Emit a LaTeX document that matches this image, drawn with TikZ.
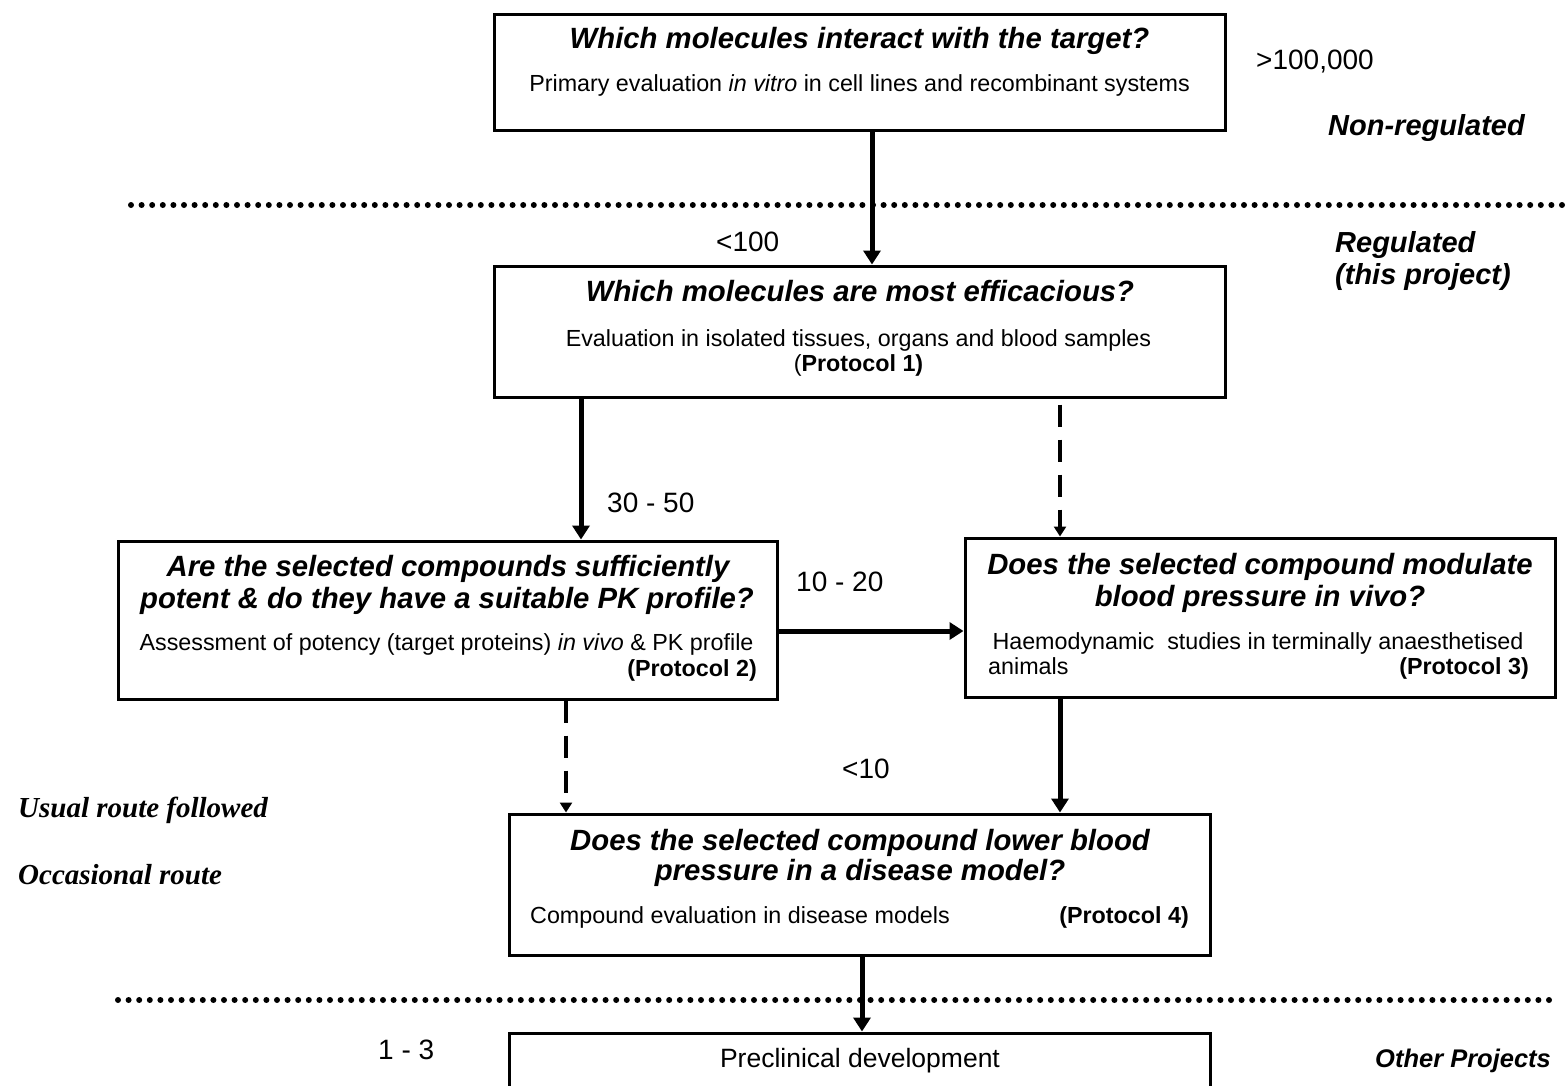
\documentclass[tikz,border=0pt]{standalone}
\usepackage{fontspec}
\setmainfont{Liberation Sans}
\newfontfamily\legfont{Liberation Serif}
\usetikzlibrary{arrows.meta}
\begin{document}
\begin{tikzpicture}[x=1pt,y=-1pt,
  box/.style={draw, line width=3pt, rectangle, inner sep=0pt},
  ttl/.style={font=\fontsize{29.3}{32}\selectfont\bfseries\itshape, inner sep=0pt, anchor=base},
  bdy/.style={font=\fontsize{23.3}{26}\selectfont, inner sep=0pt, anchor=base},
  lbl/.style={font=\fontsize{28}{30}\selectfont, inner sep=0pt, anchor=base west},
  side/.style={font=\fontsize{29}{31}\selectfont\bfseries\itshape, inner sep=0pt, anchor=base west},
  leg/.style={font=\legfont\fontsize{29}{31}\selectfont\bfseries\itshape, inner sep=0pt, anchor=base west},
  solidarrow/.style={line width=5pt, -{Triangle[length=14pt,width=17pt]}},
  dasharrow/.style={line width=4pt, dash pattern=on 22pt off 13pt, -{Triangle[length=10pt,width=12pt]}},
  dotline/.style={line width=6pt, line cap=round, dash pattern=on 0pt off 10.6pt},
]
\clip (0,0) rectangle (1567,1085);
\fill[white] (0,0) rectangle (1567,1085);

% dotted separators
\draw[dotline] (131,205) -- (1567,205);
\draw[dotline] (118,1000) -- (1556,1000);

% boxes
\node[box, minimum width=731pt, minimum height=116pt] (b1) at (859.5,72) {};
\node[box, minimum width=731pt, minimum height=131pt] (b2) at (859.5,331.5) {};
\node[box, minimum width=659pt, minimum height=158pt] (b3) at (447.5,620) {};
\node[box, minimum width=590pt, minimum height=159pt] (b4) at (1260,617.5) {};
\node[box, minimum width=701pt, minimum height=141pt] (b5) at (859.5,884.5) {};
\node[box, minimum width=701pt, minimum height=120pt] (b6) at (859.5,1093) {};

% helper coordinates
\coordinate (x872) at (872,0);
\coordinate (x581) at (581,0);
\coordinate (x1060) at (1060,0);
\coordinate (x566) at (566,0);
\coordinate (x862) at (862,0);
\coordinate (y631) at (0,631);

% connectors
\draw[solidarrow] (b1.south -| x872) -- (b2.north -| x872);
\draw[solidarrow] (b2.south -| x581) -- (b3.north -| x581);
\draw[dasharrow] ([yshift=-6pt]b2.south -| x1060) -- (b4.north -| x1060);
\draw[solidarrow] (b3.east |- y631) -- (b4.west |- y631);
\draw[dasharrow] (b3.south -| x566) -- (b5.north -| x566);
\draw[solidarrow] (b4.south -| x1060) -- (b5.north -| x1060);
\draw[solidarrow] (b5.south -| x862) -- (b6.north -| x862);

% box texts
\node[ttl] (t1) at (859.5,48) {Which molecules interact with the target?};
\node[bdy] (s1) at (859.5,91) {Primary evaluation {\itshape in vitro} in cell lines and recombinant systems};

\node[ttl] (t2) at (860,301) {Which molecules are most efficacious?};
\node[bdy] (s2) at (858.5,346) {Evaluation in isolated tissues, organs and blood samples};
\node[bdy] (p2) at (858.5,371) {(\textbf{Protocol 1)}};

\node[ttl] (t3a) at (448,576) {Are the selected compounds sufficiently};
\node[ttl] (t3b) at (447,608) {potent \& do they have a suitable PK profile?};
\node[bdy] (s3) at (446.5,650) {Assessment of potency (target proteins) {\itshape in vivo} \& PK profile};
\node[bdy, anchor=base east] (p3) at (757,676) {\textbf{(Protocol 2)}};

\node[ttl] (t4a) at (1260,574) {Does the selected compound modulate};
\node[ttl] (t4b) at (1260,606) {blood pressure in vivo?};
\node[bdy] (s4) at (1258,649) {Haemodynamic\ \ studies in terminally\ anaesthetised};
\node[bdy, anchor=base west] (s4b) at (988,674) {animals};
\node[bdy, anchor=base east] (p4) at (1529,674) {\textbf{(Protocol 3)}};

\node[ttl] (t5a) at (860,850) {Does the selected compound lower blood};
\node[ttl] (t5b) at (860,880) {pressure in a disease model?};
\node[bdy, anchor=base west] (s5) at (530,923) {Compound evaluation in disease models};
\node[bdy, anchor=base east] (p5) at (1189,923) {\textbf{(Protocol 4)}};

\node[bdy, font=\fontsize{26.5}{29}\selectfont] (t6) at (860,1067) {Preclinical development};

% numbers
\node[lbl] (n1) at (1256,69) {>100,000};
\node[lbl] (n2) at (716,251) {<100};
\node[lbl] (n3) at (607,512) {30 - 50};
\node[lbl] (n4) at (796,591) {10 - 20};
\node[lbl] (n5) at (842,778) {<10};
\node[lbl] (n6) at (378,1059) {1 - 3};

% side labels
\node[side] (l1) at (1328,135) {Non-regulated};
\node[side] (l2) at (1335,252) {Regulated};
\node[side] (l3) at (1335,284) {(this project)};
\node[side, font=\fontsize{25.5}{28}\selectfont\bfseries\itshape] (l4) at (1375,1067) {Other Projects};

% legend
\node[leg] (g1) at (18,817) {Usual route followed};
\node[leg] (g2) at (18,884) {Occasional route};
\end{tikzpicture}
\end{document}
